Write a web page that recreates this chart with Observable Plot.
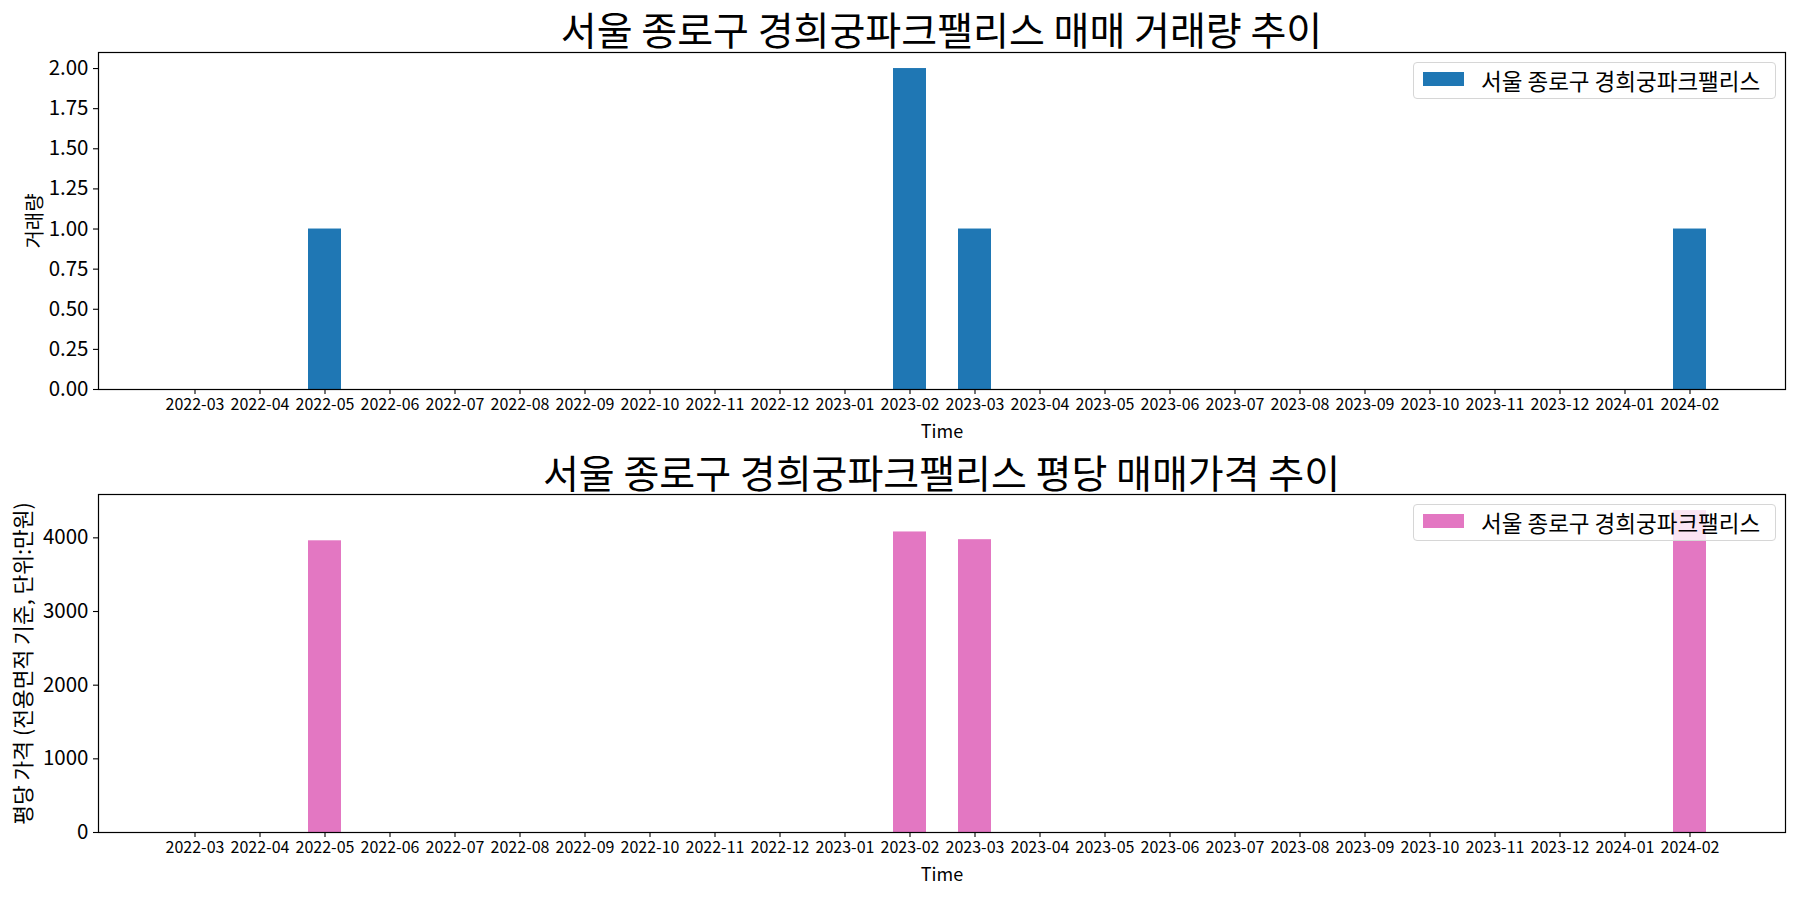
<!DOCTYPE html>
<html>
<head>
<meta charset="utf-8">
<script src="https://cdn.jsdelivr.net/npm/d3@7"></script>
<script src="https://cdn.jsdelivr.net/npm/@observablehq/plot@0.6"></script>
<style>
  html, body { margin: 0; padding: 0; background: #fff; }
  body { font-family: "Noto Sans CJK KR", "Noto Sans", sans-serif; }
  #fig { position: relative; width: 1800px; height: 900px; overflow: hidden; background: #fff; }
  .title { position: absolute; left: 98px; width: 1687px; text-align: center; font-size: 39px; line-height: normal; color: #000; white-space: nowrap; }
  .panel { position: absolute; left: 0; }
  .legend { position: absolute; left: 1413px; width: 363px; height: 37px; border: 1px solid #d6d6d6; border-radius: 4px; background: rgba(255,255,255,0.8); box-sizing: border-box; }
  .legend .sw { position: absolute; left: 9px; top: 9px; width: 41px; height: 14px; }
  .legend .lt { position: absolute; left: 67px; top: 0; line-height: 34px; font-size: 22.5px; color: #000; white-space: nowrap; }
</style>
</head>
<body>
<div id="fig"></div>
<script>
const name = "서울 종로구 경희궁파크팰리스";
const months = ["2022-03","2022-04","2022-05","2022-06","2022-07","2022-08","2022-09","2022-10","2022-11","2022-12",
                "2023-01","2023-02","2023-03","2023-04","2023-05","2023-06","2023-07","2023-08","2023-09","2023-10",
                "2023-11","2023-12","2024-01","2024-02"];
const volume = [0,0,1,0,0,0,0,0,0,0,0,2,1,0,0,0,0,0,0,0,0,0,0,1];
const price  = [0,0,3960,0,0,0,0,0,0,0,0,4080,3975,0,0,0,0,0,0,0,0,0,0,4370];
const volTicks = [0,0.25,0.5,0.75,1,1.25,1.5,1.75,2];
const priceTicks = [0,1000,2000,3000,4000];
const titleTop = name + " 매매 거래량 추이";
const titleBottom = name + " 평당 매매가격 추이";
const yLabelTop = "거래량";
const yLabelBottom = "평당 가격 (전용면적 기준, 단위:만원)";
const xLabel = "Time";

const volData = months.map((m, i) => ({month: m, value: volume[i]}));
const priceData = months.map((m, i) => ({month: m, value: price[i]}));

const fig = document.getElementById("fig");
const FONT = '"Noto Sans CJK KR", "Noto Sans", sans-serif';

function panel(data, color, ticks, fmt, yLabel, labelOffset, labelSize, marginTop, marginBottom) {
  const ymax = d3.max(data, d => d.value) * 1.05;
  return Plot.plot({
    width: 1800,
    height: 450,
    marginLeft: 98,
    marginRight: 15,
    marginTop,
    marginBottom,
    style: {fontFamily: FONT, color: "#000", background: "#fff", overflow: "visible"},
    x: {type: "band", domain: months, paddingInner: 0.5, paddingOuter: 1.175},
    y: {domain: [0, ymax]},
    marks: [
      Plot.barY(data.filter(d => d.value > 0), {x: "month", y: "value", fill: color}),
      Plot.frame({stroke: "#000", strokeWidth: 1.2}),
      Plot.axisX({fontSize: 16, tickSize: 5, tickPadding: 4, label: null, stroke: "#000", strokeWidth: 1.1}),
      Plot.axisX({ticks: [], label: xLabel, labelAnchor: "center", labelOffset: 48, fontSize: 18}),
      Plot.axisY({ticks, tickFormat: fmt, fontSize: 20.5, tickSize: 5, tickPadding: 5, label: null, stroke: "#000", strokeWidth: 1.1}),
      Plot.axisY({ticks: [], label: yLabel, labelAnchor: "center", labelOffset, labelArrow: "none", fontSize: labelSize})
    ]
  });
}

function addTitle(text, top) {
  const t = document.createElement("div");
  t.className = "title";
  t.style.top = top + "px";
  t.textContent = text;
  fig.appendChild(t);
}
function addLegend(color, top) {
  const l = document.createElement("div");
  l.className = "legend";
  l.style.top = top + "px";
  l.innerHTML = `<div class="sw" style="background:${color}"></div><div class="lt">${name}</div>`;
  fig.appendChild(l);
}

const p1 = panel(volData, "#1f77b4", volTicks, d3.format(".2f"), yLabelTop, 71, 20, 52, 61);
p1.classList.add("panel"); p1.style.top = "0px";
fig.appendChild(p1);

const p2 = panel(priceData, "#e377c2", priceTicks, d3.format("d"), yLabelBottom, 83, 21.5, 44, 68);
p2.classList.add("panel"); p2.style.top = "450px";
fig.appendChild(p2);

addTitle(titleTop, 0);
addTitle(titleBottom, 443);
addLegend("#1f77b4", 62);
addLegend("#e377c2", 504);
</script>
</body>
</html>
